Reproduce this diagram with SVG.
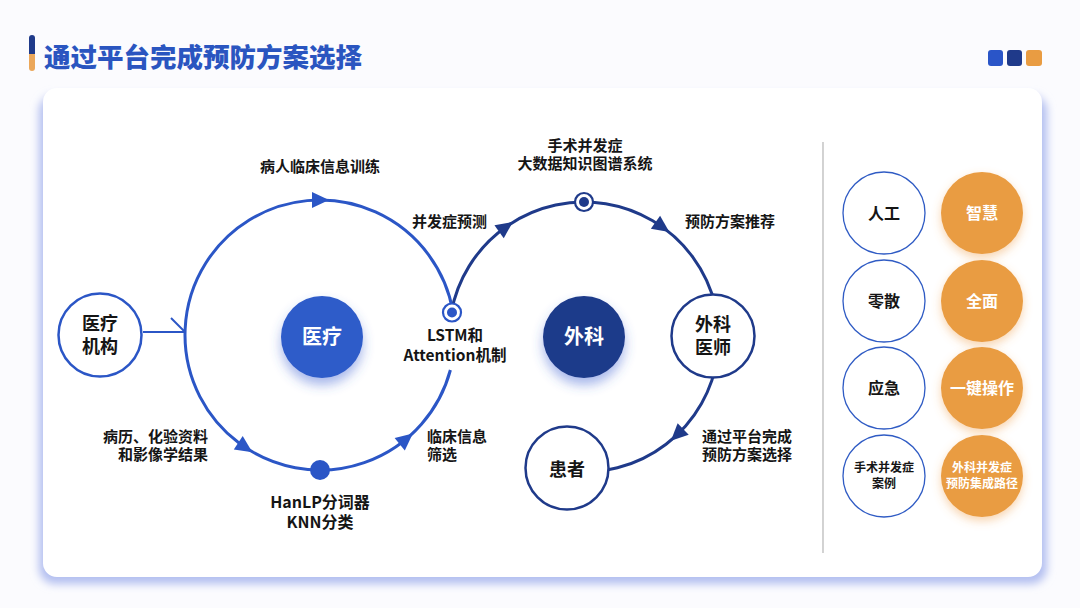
<svg xmlns="http://www.w3.org/2000/svg" width="1080" height="608" viewBox="0 0 1080 608">
<defs>
<style>
.t{font-family:"Noto Sans CJK SC","Noto Sans",sans-serif;font-weight:700;fill:#151515;}
.lbl{font-size:15px;}
.nd{font-size:18px;}
.w{fill:#ffffff;}
.loopA{fill:none;stroke:#2b56c6;stroke-width:3;}
.loopB{fill:none;stroke:#1f3a8a;stroke-width:3;}
.nodeA{fill:#fff;stroke:#2b56c6;stroke-width:2.5;}
.nodeB{fill:#fff;stroke:#1f3a8a;stroke-width:2.5;}
.side{fill:#fff;stroke:#2f5bc4;stroke-width:1.3;}
.org{fill:#e99c42;}
</style>
<filter id="cardSh" x="-5%" y="-5%" width="110%" height="110%"><feGaussianBlur stdDeviation="4"/></filter>
<filter id="blueSh" x="-50%" y="-50%" width="200%" height="200%"><feDropShadow dx="0" dy="7" stdDeviation="6" flood-color="#3a5fd0" flood-opacity="0.45"/></filter>
<filter id="orgSh" x="-50%" y="-50%" width="200%" height="200%"><feDropShadow dx="0" dy="4" stdDeviation="5" flood-color="#f0a050" flood-opacity="0.45"/></filter>
<path id="arr" d="M9,0 L-8,-8 L-8,8 Z"/>
</defs>
<rect x="0" y="0" width="1080" height="608" fill="#fbfbfe"/>
<g id="header">
<rect x="29" y="35" width="6" height="18" rx="3" fill="#1f3a8a"/>
<rect x="29" y="52" width="6" height="19" rx="3" fill="#eba75a"/>
<rect x="29" y="50" width="6" height="4" fill="#1f3a8a"/>
<text x="44" y="67" class="t" style="font-size:26.5px;fill:#2a55c0;font-weight:900">通过平台完成预防方案选择</text>
<rect x="988" y="50" width="15" height="16" rx="3" fill="#2a55c8"/>
<rect x="1007" y="50" width="15" height="16" rx="3" fill="#1f3a8a"/>
<rect x="1026" y="50" width="16" height="16" rx="3" fill="#e99c42"/>
</g>
<g id="card">
<rect x="39" y="95" width="1008" height="489" rx="16" fill="#b3bff0" filter="url(#cardSh)"/>
<rect x="43" y="88" width="999" height="489" rx="14" fill="#ffffff"/>
</g>
<g id="connectors">
<path class="loopA" d="M 450.4 370 A 135 135 0 1 1 453 311.8"/>
<path class="loopB" d="M 451.2 312.8 A 135 135 0 1 1 567.5 471"/>
<line x1="143" y1="332" x2="185" y2="332" stroke="#2b56c6" stroke-width="2"/>
<line x1="171" y1="318" x2="185" y2="332" stroke="#2b56c6" stroke-width="2"/>
<use href="#arr" fill="#2b56c6" transform="translate(320,200) rotate(0)"/>
<use href="#arr" fill="#2b56c6" transform="translate(244.9,447.2) rotate(33.8)"/>
<use href="#arr" fill="#2b56c6" transform="translate(405.9,439.2) rotate(-39.5)"/>
<use href="#arr" fill="#1f3a8a" transform="translate(505.6,227.1) rotate(-35.5)"/>
<use href="#arr" fill="#1f3a8a" transform="translate(662,226.8) rotate(35.3)"/>
<use href="#arr" fill="#1f3a8a" transform="translate(677.4,434.5) rotate(136.2)"/>
<circle cx="320" cy="470" r="10" fill="#2b56c6"/>
<circle cx="452" cy="312.5" r="9" fill="#fff" stroke="#2b56c6" stroke-width="2.2"/>
<circle cx="452" cy="312.5" r="5" fill="#2b56c6"/>
<circle cx="584" cy="202" r="9" fill="#fff" stroke="#1f3a8a" stroke-width="2.2"/>
<circle cx="584" cy="202" r="5" fill="#1f3a8a"/>
</g>
<g id="labels">
<text x="320" y="172" text-anchor="middle" class="t lbl">病人临床信息训练</text>
<text x="412" y="227" class="t lbl">并发症预测</text>
<text x="455" y="341" text-anchor="middle" class="t" style="font-size:15.5px">LSTM和</text>
<text x="455" y="361" text-anchor="middle" class="t" style="font-size:15.5px">Attention机制</text>
<text x="208" y="442" text-anchor="end" class="t lbl">病历、化验资料</text>
<text x="208" y="460" text-anchor="end" class="t lbl">和影像学结果</text>
<text x="427" y="442" class="t lbl">临床信息</text>
<text x="427" y="460" class="t lbl">筛选</text>
<text x="320" y="508" text-anchor="middle" class="t" style="font-size:16px">HanLP分词器</text>
<text x="320" y="528" text-anchor="middle" class="t" style="font-size:16px">KNN分类</text>
<text x="585" y="151" text-anchor="middle" class="t lbl">手术并发症</text>
<text x="585" y="169" text-anchor="middle" class="t lbl">大数据知识图谱系统</text>
<text x="685" y="227" class="t lbl">预防方案推荐</text>
<text x="702" y="442" class="t lbl">通过平台完成</text>
<text x="702" y="460" class="t lbl">预防方案选择</text>
</g>
<g id="node-yiliao-jigou">
<circle cx="100" cy="335" r="41.5" class="nodeA"/>
<text x="100" y="330" text-anchor="middle" class="t nd">医疗</text>
<text x="100" y="353" text-anchor="middle" class="t nd">机构</text>
</g>
<g id="node-yiliao">
<circle cx="322" cy="337" r="41" fill="#2e5bc9" filter="url(#blueSh)"/>
<text x="322" y="344" text-anchor="middle" class="t w" style="font-size:20px">医疗</text>
</g>
<g id="node-waike">
<circle cx="584" cy="337" r="41" fill="#1f3a8a" filter="url(#blueSh)"/>
<text x="584" y="344" text-anchor="middle" class="t w" style="font-size:20px">外科</text>
</g>
<g id="node-waike-yishi">
<circle cx="713" cy="336" r="41.5" class="nodeB"/>
<text x="713" y="331" text-anchor="middle" class="t nd">外科</text>
<text x="713" y="354" text-anchor="middle" class="t nd">医师</text>
</g>
<g id="node-huanzhe">
<circle cx="567" cy="468" r="41.5" class="nodeB"/>
<text x="567" y="476" text-anchor="middle" class="t nd">患者</text>
</g>
<g id="divider">
<line x1="823" y1="142" x2="823" y2="553" stroke="#b5b5b5" stroke-width="1.2"/>
</g>
<g id="node-rengong">
<circle cx="884" cy="213" r="41" class="side"/>
<text x="884" y="219" text-anchor="middle" class="t" style="font-size:16px">人工</text>
</g>
<g id="node-lingsan">
<circle cx="884" cy="301" r="41" class="side"/>
<text x="884" y="307" text-anchor="middle" class="t" style="font-size:16px">零散</text>
</g>
<g id="node-yingji">
<circle cx="884" cy="388" r="41" class="side"/>
<text x="884" y="394" text-anchor="middle" class="t" style="font-size:16px">应急</text>
</g>
<g id="node-anli">
<circle cx="884" cy="476" r="41" class="side"/>
<text x="884" y="472" text-anchor="middle" class="t" style="font-size:12px">手术并发症</text>
<text x="884" y="488" text-anchor="middle" class="t" style="font-size:12px">案例</text>
</g>
<g id="node-zhihui">
<circle cx="982" cy="213" r="41" class="org" filter="url(#orgSh)"/>
<text x="982" y="219" text-anchor="middle" class="t w" style="font-size:16px">智慧</text>
</g>
<g id="node-quanmian">
<circle cx="982" cy="301" r="41" class="org" filter="url(#orgSh)"/>
<text x="982" y="307" text-anchor="middle" class="t w" style="font-size:16px">全面</text>
</g>
<g id="node-yijian">
<circle cx="982" cy="388" r="41" class="org" filter="url(#orgSh)"/>
<text x="982" y="394" text-anchor="middle" class="t w" style="font-size:16px">一键操作</text>
</g>
<g id="node-lujing">
<circle cx="982" cy="476" r="41" class="org" filter="url(#orgSh)"/>
<text x="982" y="472" text-anchor="middle" class="t w" style="font-size:12px">外科并发症</text>
<text x="982" y="488" text-anchor="middle" class="t w" style="font-size:12px">预防集成路径</text>
</g>
</svg>
